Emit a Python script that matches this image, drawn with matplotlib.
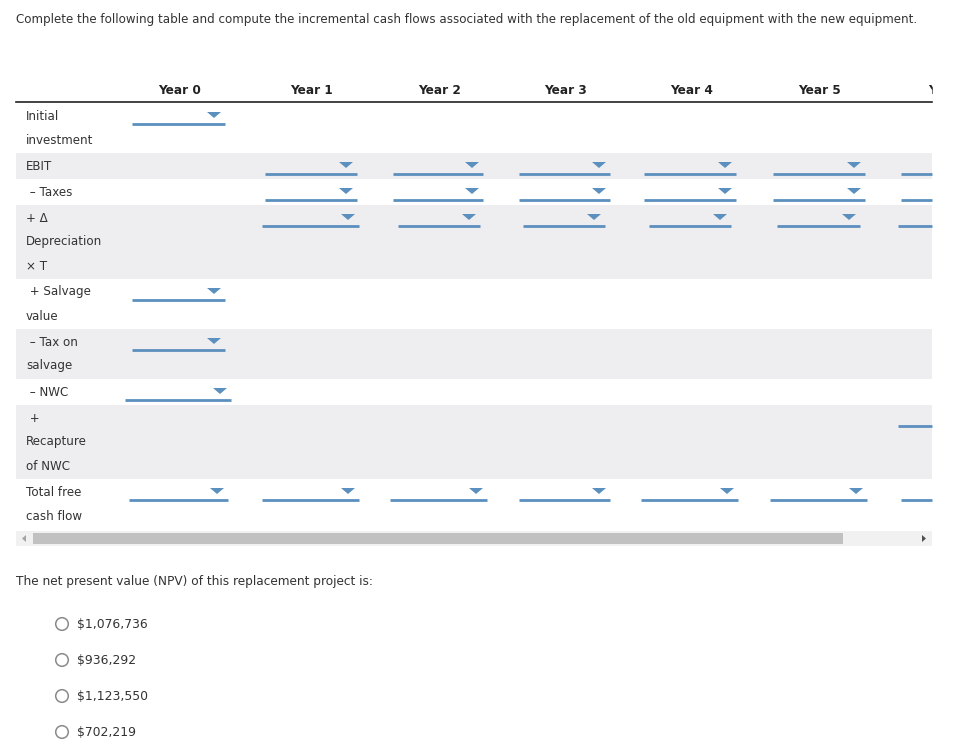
import matplotlib.pyplot as plt
from matplotlib.patches import Rectangle, Polygon, Circle

# ---- content ----
title = ("Complete the following table and compute the incremental cash flows "
         "associated with the replacement of the old equipment with the new equipment.")
years = ["Year 0", "Year 1", "Year 2", "Year 3", "Year 4", "Year 5", "Y"]
row_labels = [
    ["Initial", "investment"],
    ["EBIT"],
    [" \u2013 Taxes"],
    ["+ \u0394", "Depreciation", "\u00d7 T"],
    [" + Salvage", "value"],
    [" \u2013 Tax on", "salvage"],
    [" \u2013 NWC"],
    [" +", "Recapture", "of NWC"],
    ["Total free", "cash flow"],
]
npv_question = "The net present value (NPV) of this replacement project is:"
npv_options = ["$1,076,736", "$936,292", "$1,123,550", "$702,219"]

# ---- layout (pixels) ----
W, H = 957, 755
TABLE_L, TABLE_R = 16, 932
HEADER_Y, HEADER_LINE_Y = 91, 102
year_x = [180, 312, 440, 566, 692, 820, 932]
LINE_H = 24
SHADE = "#eeeef0"
BLUE = "#5b8fbe"
TEXT = "#333333"

# dropdown spans (x0, x1) per row; the last column is cut off (no arrow)
dropdowns = [
    [(132, 225)],
    [(265, 357), (393, 483), (519, 610), (644, 736), (773, 865)],
    [(265, 357), (393, 483), (519, 610), (644, 736), (773, 865)],
    [(262, 359), (398, 480), (523, 605), (649, 731), (777, 860)],
    [(132, 225)],
    [(132, 225)],
    [(125, 231)],
    [],
    [(129, 228), (262, 359), (390, 487), (519, 610), (641, 738), (770, 867)],
]
cut_dropdowns = [None, (901, 932), (901, 932), (898, 932), None, None, None,
                 (898, 932), (901, 932)]

fig = plt.figure(figsize=(W / 100, H / 100), dpi=100)
ax = fig.add_axes([0, 0, 1, 1])
ax.set_xlim(0, W)
ax.set_ylim(H, 0)
ax.axis("off")

FS = 8.7
ax.text(16, 19, title, fontsize=8.55, color=TEXT, va="center", ha="left")

# header
for x, yr in zip(year_x, years):
    ax.text(x, HEADER_Y, yr, fontsize=FS, fontweight="bold", color="#222222",
            ha="center", va="center")
ax.plot([TABLE_L, TABLE_R], [HEADER_LINE_Y, HEADER_LINE_Y], color="#222222", lw=1.2)
ax.add_patch(Rectangle((TABLE_R + 1, 80), W - TABLE_R, 20, color="white", zorder=5))


def dropdown(x0, x1, top, arrow=True):
    ax.plot([x0, x1], [top + 21, top + 21], color=BLUE, lw=2, solid_capstyle="butt")
    if arrow:
        cx = x1 - 11
        ax.add_patch(Polygon([[cx - 7, top + 9], [cx + 7, top + 9], [cx, top + 15]],
                             closed=True, color=BLUE, lw=0))


y = HEADER_LINE_Y + 1
for i, lines in enumerate(row_labels):
    h = LINE_H * len(lines) + 2
    if i % 2 == 1:
        ax.add_patch(Rectangle((TABLE_L, y), TABLE_R - TABLE_L, h, color=SHADE, lw=0))
    for k, line in enumerate(lines):
        ax.text(26, y + 13 + k * LINE_H, line, fontsize=8.55, color=TEXT,
                ha="left", va="center")
    for x0, x1 in dropdowns[i]:
        dropdown(x0, x1, y)
    if cut_dropdowns[i] is not None:
        dropdown(cut_dropdowns[i][0], cut_dropdowns[i][1], y, arrow=False)
    y += h

# scrollbar
sb_top = y + 2
ax.add_patch(Rectangle((TABLE_L, sb_top), TABLE_R - TABLE_L, 15, color="#f1f1f1", lw=0))
ax.add_patch(Rectangle((33, sb_top + 2), 843 - 33, 11, color="#c1c1c1", lw=0))
ax.add_patch(Polygon([[26, sb_top + 4], [26, sb_top + 11], [22, sb_top + 7.5]],
                     closed=True, color="#a3a3a3", lw=0))
ax.add_patch(Polygon([[922, sb_top + 4], [922, sb_top + 11], [926, sb_top + 7.5]],
                     closed=True, color="#505050", lw=0))

# NPV question and options
ax.text(16, 582, npv_question, fontsize=FS, color=TEXT, ha="left", va="center")
for j, opt in enumerate(npv_options):
    oy = 624 + 36 * j
    ax.add_patch(Circle((62, oy), 6.3, facecolor="white", edgecolor="#8a8a8a", lw=1.1))
    ax.text(77, oy, opt, fontsize=8.9, color=TEXT, ha="left", va="center")

fig.savefig("out.png", dpi=100, facecolor="white")
